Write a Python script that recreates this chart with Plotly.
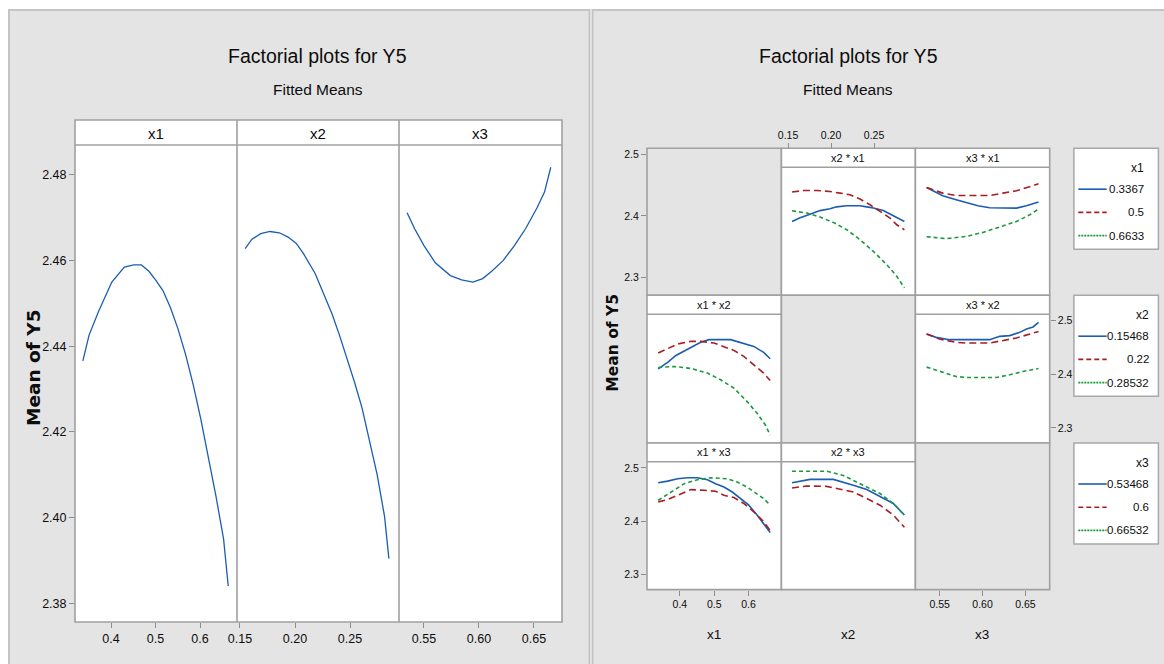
import plotly.graph_objects as go

# ---------------- DATA ----------------
# Main effects (left chart)
me_x1 = [0.3367, 0.3506, 0.3719, 0.4017, 0.4298, 0.4511, 0.4681, 0.4851, 0.5000, 0.5166, 0.5336, 0.5506, 0.5677, 0.5847, 0.6017, 0.6187, 0.6357, 0.6528, 0.6633]
me_y1 = [2.4366, 2.4426, 2.4481, 2.4550, 2.4585, 2.4590, 2.4590, 2.4575, 2.4555, 2.4530, 2.4490, 2.4440, 2.4380, 2.4310, 2.4230, 2.4140, 2.4050, 2.3950, 2.3840]
me_x2 = [0.15468, 0.1609, 0.1688, 0.1773, 0.1858, 0.1937, 0.2012, 0.2080, 0.2183, 0.2268, 0.2336, 0.2404, 0.2473, 0.2541, 0.2609, 0.2677, 0.2746, 0.2814, 0.28532]
me_y2 = [2.4628, 2.4650, 2.4663, 2.4668, 2.4665, 2.4655, 2.4640, 2.4615, 2.4570, 2.4520, 2.4476, 2.4426, 2.4371, 2.4316, 2.4256, 2.4181, 2.4101, 2.4002, 2.3904]
me_x3 = [0.53468, 0.5414, 0.5500, 0.5603, 0.5740, 0.5842, 0.5945, 0.6034, 0.6116, 0.6219, 0.6322, 0.6425, 0.6527, 0.6596, 0.66532]
me_y3 = [2.4712, 2.4675, 2.4635, 2.4595, 2.4565, 2.4555, 2.4550, 2.4558, 2.4575, 2.4600, 2.4635, 2.4675, 2.4723, 2.4760, 2.4818]

# Factor levels (legend labels)
x1_levels = ["0.3367", "0.5", "0.6633"]
x2_levels = ["0.15468", "0.22", "0.28532"]
x3_levels = ["0.53468", "0.6", "0.66532"]

# Interaction x2 * x1  (x axis = x2, lines = x1 levels)
x2x1_x_lo = [0.15468, 0.1640, 0.1756, 0.1872, 0.1988, 0.2066, 0.2183, 0.2337, 0.2415, 0.2492, 0.2608, 0.2724, 0.28532]
x2x1_y_lo = [2.4097, 2.4165, 2.4230, 2.4300, 2.4335, 2.4370, 2.4390, 2.4390, 2.4370, 2.4350, 2.4300, 2.4210, 2.4097]
x2x1_x_mid = [0.15468, 0.1678, 0.1833, 0.1988, 0.2105, 0.2221, 0.2337, 0.2453, 0.2570, 0.2686, 0.2764, 0.28532]
x2x1_y_mid = [2.4646, 2.4676, 2.4676, 2.4657, 2.4627, 2.4595, 2.4515, 2.4409, 2.4284, 2.4160, 2.4035, 2.3942]
x2x1_x_hi = [0.15468, 0.1717, 0.1872, 0.2027, 0.2183, 0.2337, 0.2492, 0.2648, 0.2764, 0.28532]
x2x1_y_hi = [2.4297, 2.4254, 2.4179, 2.4079, 2.3942, 2.3756, 2.3537, 2.3289, 2.3071, 2.2854]

# Interaction x3 * x1  (x axis = x3, lines = x1 levels)
x3x1_x_lo = [0.53468, 0.5418, 0.5535, 0.5692, 0.5809, 0.5946, 0.6083, 0.6200, 0.6396, 0.6513, 0.66532]
x3x1_y_lo = [2.4731, 2.4676, 2.4576, 2.4502, 2.4452, 2.4390, 2.4353, 2.4347, 2.4347, 2.4390, 2.4459]
x3x1_x_mid = [0.53468, 0.5535, 0.5692, 0.5887, 0.6083, 0.6239, 0.6396, 0.66532]
x3x1_y_mid = [2.4731, 2.4627, 2.4582, 2.4576, 2.4582, 2.4627, 2.4670, 2.4800]
x3x1_x_hi = [0.53468, 0.5575, 0.5809, 0.6004, 0.6200, 0.6396, 0.6552, 0.66532]
x3x1_y_hi = [2.3812, 2.3774, 2.3817, 2.3892, 2.3993, 2.4097, 2.4222, 2.4328]

# Interaction x1 * x2  (x axis = x1, lines = x2 levels)
x1x2_x_lo = [0.3367, 0.3643, 0.3884, 0.4174, 0.4415, 0.4609, 0.4850, 0.5478, 0.5768, 0.6155, 0.6443, 0.6633]
x1x2_y_lo = [2.4097, 2.4215, 2.4345, 2.4451, 2.4526, 2.4588, 2.4638, 2.4638, 2.4588, 2.4513, 2.4401, 2.4284]
x1x2_x_mid = [0.3367, 0.3643, 0.3933, 0.4319, 0.4609, 0.4995, 0.5284, 0.5575, 0.5864, 0.6155, 0.6443, 0.6633]
x1x2_y_mid = [2.4390, 2.4465, 2.4558, 2.4607, 2.4607, 2.4576, 2.4513, 2.4438, 2.4327, 2.4172, 2.4017, 2.3879]
x1x2_x_hi = [0.3367, 0.3835, 0.4319, 0.4802, 0.5188, 0.5575, 0.5962, 0.6252, 0.6493, 0.6633]
x1x2_y_hi = [2.4121, 2.4140, 2.4103, 2.4017, 2.3892, 2.3737, 2.3487, 2.3270, 2.3052, 2.2866]

# Interaction x3 * x2  (x axis = x3, lines = x2 levels)
x3x2_x_lo = [0.53468, 0.5458, 0.5614, 0.5809, 0.6083, 0.6200, 0.6317, 0.6435, 0.6513, 0.6590, 0.66532]
x3x2_y_lo = [2.4744, 2.4681, 2.4638, 2.4638, 2.4638, 2.4700, 2.4713, 2.4774, 2.4837, 2.4875, 2.4961]
x3x2_x_mid = [0.53468, 0.5497, 0.5692, 0.5809, 0.6083, 0.6239, 0.6396, 0.66532]
x3x2_y_mid = [2.4744, 2.4650, 2.4588, 2.4576, 2.4576, 2.4625, 2.4670, 2.4790]
x3x2_x_hi = [0.53468, 0.5497, 0.5692, 0.5809, 0.6161, 0.6317, 0.6473, 0.66532]
x3x2_y_hi = [2.4128, 2.4047, 2.3953, 2.3935, 2.3935, 2.3985, 2.4047, 2.4103]

# Interaction x1 * x3  (x axis = x1, lines = x3 levels)
x1x3_x_lo = [0.3367, 0.3643, 0.3933, 0.4222, 0.4512, 0.4802, 0.5043, 0.5284, 0.5527, 0.5768, 0.6009, 0.6250, 0.6443, 0.6633]
x1x3_y_lo = [2.4722, 2.4751, 2.4796, 2.4814, 2.4814, 2.4777, 2.4703, 2.4640, 2.4547, 2.4425, 2.4300, 2.4115, 2.3961, 2.3787]
x1x3_x_mid = [0.3367, 0.3643, 0.3933, 0.4319, 0.4705, 0.5043, 0.5284, 0.5575, 0.5864, 0.6155, 0.6443, 0.6633]
x1x3_y_mid = [2.4362, 2.4406, 2.4486, 2.4592, 2.4579, 2.4560, 2.4486, 2.4443, 2.4332, 2.4176, 2.3991, 2.3824]
x1x3_x_hi = [0.3367, 0.3739, 0.4126, 0.4512, 0.4899, 0.5383, 0.5672, 0.5962, 0.6250, 0.6443, 0.6633]
x1x3_y_hi = [2.4393, 2.4547, 2.4703, 2.4777, 2.4814, 2.4796, 2.4733, 2.4640, 2.4518, 2.4425, 2.4300]

# Interaction x2 * x3  (x axis = x2, lines = x3 levels)
x2x3_x_lo = [0.15468, 0.1640, 0.1756, 0.2027, 0.2143, 0.2259, 0.2415, 0.2570, 0.2724, 0.28532]
x2x3_y_lo = [2.4722, 2.4751, 2.4783, 2.4783, 2.4733, 2.4672, 2.4592, 2.4468, 2.4332, 2.4115]
x2x3_x_mid = [0.15468, 0.1717, 0.1950, 0.2143, 0.2259, 0.2415, 0.2570, 0.2724, 0.28532]
x2x3_y_mid = [2.4622, 2.4659, 2.4653, 2.4592, 2.4547, 2.4425, 2.4300, 2.4115, 2.3887]
x2x3_x_hi = [0.15468, 0.1950, 0.2143, 0.2259, 0.2415, 0.2570, 0.2724, 0.28532]
x2x3_y_hi = [2.4937, 2.4937, 2.4857, 2.4764, 2.4640, 2.4518, 2.4332, 2.4115]

# Tick labels
main_y_ticks = [2.38, 2.40, 2.42, 2.44, 2.46, 2.48]
int_y_ticks = [2.3, 2.4, 2.5]
x1_ticks = [0.4, 0.5, 0.6]
x2_ticks = [0.15, 0.20, 0.25]
x3_ticks = [0.55, 0.60, 0.65]

# ---------------- STYLE / LAYOUT HELPERS ----------------
W, H = 1164, 664
def fx(p): return p / W
def fy(p): return 1 - p / H

FONT = "Liberation Sans, Arial, sans-serif"
BOLDFONT = "DejaVu Sans, Verdana, sans-serif"
TXT = "#0d0d0d"
BG = "#e4e4e4"
FRAME = "#a0a0a0"
TICK = "#8c8c8c"
BLUE, RED, GREEN = "#1b5db3", "#a81e22", "#1a9a3c"
STY = [dict(color=BLUE, width=1.6, dash="solid"),
       dict(color=RED, width=1.6, dash="7px,4px"),
       dict(color=GREEN, width=1.6, dash="4px,3px")]
LEG_STY = [dict(color=BLUE, width=1.6, dash="solid"),
           dict(color=RED, width=1.6, dash="5px,3px"),
           dict(color=GREEN, width=1.6, dash="2px,1px")]

fig = go.Figure()

def line_trace(x, y, xa, ya, st):
    fig.add_trace(go.Scatter(x=x, y=y, mode="lines", line=st, xaxis=xa, yaxis=ya,
                             showlegend=False, hoverinfo="skip"))

# main effects
line_trace(me_x1, me_y1, "x", "y", dict(color=BLUE, width=1.3))
line_trace(me_x2, me_y2, "x2", "y", dict(color=BLUE, width=1.3))
line_trace(me_x3, me_y3, "x3", "y", dict(color=BLUE, width=1.3))

panels = [
    ("x4", "y4", [(x2x1_x_lo, x2x1_y_lo), (x2x1_x_mid, x2x1_y_mid), (x2x1_x_hi, x2x1_y_hi)]),
    ("x5", "y5", [(x3x1_x_lo, x3x1_y_lo), (x3x1_x_mid, x3x1_y_mid), (x3x1_x_hi, x3x1_y_hi)]),
    ("x6", "y6", [(x1x2_x_lo, x1x2_y_lo), (x1x2_x_mid, x1x2_y_mid), (x1x2_x_hi, x1x2_y_hi)]),
    ("x7", "y7", [(x3x2_x_lo, x3x2_y_lo), (x3x2_x_mid, x3x2_y_mid), (x3x2_x_hi, x3x2_y_hi)]),
    ("x8", "y8", [(x1x3_x_lo, x1x3_y_lo), (x1x3_x_mid, x1x3_y_mid), (x1x3_x_hi, x1x3_y_hi)]),
    ("x9", "y9", [(x2x3_x_lo, x2x3_y_lo), (x2x3_x_mid, x2x3_y_mid), (x2x3_x_hi, x2x3_y_hi)]),
]
for xa, ya, lines in panels:
    for (lx, ly), st in zip(lines, STY):
        line_trace(lx, ly, xa, ya, st)
# dummy (empty) trace for the row-1 tick axis
fig.add_trace(go.Scatter(x=[], y=[], xaxis="x10", yaxis="y10", showlegend=False))

# ---------------- AXES ----------------
def ax(domain, rng, tickvals=None, fmt=None, size=12.5, **kw):
    d = dict(domain=domain, range=rng, showgrid=False, zeroline=False, showline=False,
             fixedrange=True, automargin=False)
    if tickvals is None:
        d.update(showticklabels=False, ticks="")
    else:
        d.update(tickvals=tickvals, ticktext=[fmt.format(v) for v in tickvals],
                 ticks="outside", ticklen=5, tickwidth=1, tickcolor=TICK,
                 tickfont=dict(family=FONT, size=size, color=TXT))
    d.update(kw)
    return d

X1R_M, X2R_M, X3R_M = [0.319, 0.683], [0.1473, 0.2945], [0.5273, 0.6755]
YR_M = [2.3756, 2.487]
X1R, X2R, X3R = [0.304, 0.696], [0.1423, 0.2981], [0.5216, 0.6784]
YR = [2.2718, 2.5115]

C1, C2, C3 = [647, 781.4], [781.4, 915.4], [915.4, 1049.7]
R1, R2, R3 = [167, 295.2], [314, 443], [461.7, 589.6]
def dx(c): return [fx(c[0]), fx(c[1])]
def dy(r): return [fy(r[1]), fy(r[0])]

lay = {}
lay["xaxis"] = ax([fx(75), fx(237)], X1R_M, x1_ticks, "{:.1f}", anchor="y")
lay["xaxis2"] = ax([fx(237), fx(399)], X2R_M, x2_ticks, "{:.2f}", anchor="y")
lay["xaxis3"] = ax([fx(399), fx(562)], X3R_M, x3_ticks, "{:.2f}", anchor="y")
lay["yaxis"] = ax([fy(622), fy(145)], YR_M, main_y_ticks, "{:.2f}", anchor="x")

RS = 10.5
lay["xaxis4"] = ax(dx(C2), X2R, x2_ticks, "{:.2f}", RS, anchor="free", position=fy(148.2), side="top")
lay["yaxis4"] = ax(dy(R1), YR, anchor="x4")
lay["xaxis5"] = ax(dx(C3), X3R, anchor="y5")
lay["yaxis5"] = ax(dy(R1), YR, anchor="x5")
lay["xaxis6"] = ax(dx(C1), X1R, anchor="y6")
lay["yaxis6"] = ax(dy(R2), YR, anchor="x6")
lay["xaxis7"] = ax(dx(C3), X3R, x3_ticks, "{:.2f}", RS, anchor="free", position=fy(589.6))
lay["yaxis7"] = ax(dy(R2), YR, int_y_ticks, "{:.1f}", RS, anchor="x7", side="right")
lay["xaxis8"] = ax(dx(C1), X1R, x1_ticks, "{:.1f}", RS, anchor="y8")
lay["yaxis8"] = ax(dy(R3), YR, int_y_ticks, "{:.1f}", RS, anchor="x8")
lay["xaxis9"] = ax(dx(C2), X2R, anchor="y9")
lay["yaxis9"] = ax(dy(R3), YR, anchor="x9")
lay["xaxis10"] = ax(dx(C1), X1R, anchor="y10")
lay["yaxis10"] = ax([fy(295.2), fy(148.2)], [2.271, 2.5104], int_y_ticks, "{:.1f}", RS, anchor="x10")

# ---------------- SHAPES ----------------
shapes = []
def rect(x0, y0, x1, y1, fill="rgba(0,0,0,0)", line=FRAME, width=1.6, layer="below"):
    shapes.append(dict(type="rect", xref="paper", yref="paper", x0=fx(x0), x1=fx(x1),
                       y0=fy(y1), y1=fy(y0), fillcolor=fill,
                       line=dict(color=line, width=width), layer=layer))
def hline(x0, x1, y, color=FRAME, width=1.6):
    shapes.append(dict(type="line", xref="paper", yref="paper", x0=fx(x0), x1=fx(x1),
                       y0=fy(y), y1=fy(y), line=dict(color=color, width=width), layer="below"))
def vline(x, y0, y1, color=FRAME, width=1.6):
    shapes.append(dict(type="line", xref="paper", yref="paper", x0=fx(x), x1=fx(x),
                       y0=fy(y0), y1=fy(y1), line=dict(color=color, width=width), layer="below"))

# chart backgrounds
rect(9, 10, 589.5, 672, fill=BG, line="#c4c4c4", width=2)
rect(592.5, 10, 1172, 672, fill=BG, line="#c4c4c4", width=2)

# left chart frame
rect(75, 120, 562, 622, fill="white")
hline(75, 562, 145)
vline(237, 120, 622)
vline(399, 120, 622)

# right chart grid
rows = [(148.2, 295.2), (295.2, 443), (443, 589.6)]
cols = [C1, C2, C3]
empty = {(0, 0), (1, 1), (2, 2)}
for ri, (ry0, ry1) in enumerate(rows):
    for ci, c in enumerate(cols):
        if (ri, ci) in empty:
            rect(c[0], ry0, c[1], ry1, fill=BG)
        else:
            rect(c[0], ry0, c[1], ry1, fill="white")
            hline(c[0], c[1], ry0 + (19 if ri < 2 else 18.7))

# legends
LEG_TOPS = [148.2, 295.2, 443]
LEG_RIGHT = [1145.7, 1150.7, 1150.7]
for top in LEG_TOPS:
    rect(1073.9, top, 1158.4, top + 101, fill="white", line="#a8a8a8", width=1.5)
    for k, st in enumerate(LEG_STY):
        yy = top + 41 + k * 23.2
        shapes.append(dict(type="line", xref="paper", yref="paper", x0=fx(1078.3), x1=fx(1106.7),
                           y0=fy(yy), y1=fy(yy), line=st, layer="above"))

# ---------------- ANNOTATIONS ----------------
ann = []
def text(t, x, y, size, xanchor="center", family=FONT, angle=0, weight="normal"):
    ann.append(dict(text=t, x=fx(x), y=fy(y), xref="paper", yref="paper", showarrow=False,
                    xanchor=xanchor, yanchor="middle", textangle=angle,
                    font=dict(family=family, size=size, color=TXT, weight=weight)))

for cx in (318, 848):
    text("Factorial plots for Y5", cx, 56, 19.5)
    text("Fitted Means", cx, 89, 15.5)

text("x1", 156, 133, 15)
text("x2", 318, 133, 15)
text("x3", 480, 133, 15)
text("Mean of Y5", 33, 368, 18.5, family=BOLDFONT, angle=-90, weight="bold")

strip_y = [157.7, 304.6, 452.3]
ccent = [(c[0] + c[1]) / 2 for c in cols]
text("x2 * x1", ccent[1], strip_y[0], 11)
text("x3 * x1", ccent[2], strip_y[0], 11)
text("x1 * x2", ccent[0], strip_y[1], 11)
text("x3 * x2", ccent[2], strip_y[1], 11)
text("x1 * x3", ccent[0], strip_y[2], 11)
text("x2 * x3", ccent[1], strip_y[2], 11)

text("x1", 713.7, 634, 13.5)
text("x2", 848, 634, 13.5)
text("x3", 982, 634, 13.5)
text("Mean of Y5", 612.7, 343, 15.5, family=BOLDFONT, angle=-90, weight="bold")

for top, rx, name, levels in zip(LEG_TOPS, LEG_RIGHT, ["x1", "x2", "x3"],
                                 [x1_levels, x2_levels, x3_levels]):
    text(name, rx, top + 19.5, 12, xanchor="right")
    for k, lab in enumerate(levels):
        text(lab, rx, top + 41 + k * 23.2, 11.5, xanchor="right")

fig.update_layout(template="none", width=W, height=H, autosize=False,
                  margin=dict(l=0, r=0, t=0, b=0, pad=0),
                  paper_bgcolor="white", plot_bgcolor="rgba(0,0,0,0)",
                  showlegend=False, shapes=shapes, annotations=ann, **lay)

fig.write_html("out.html", config={"displayModeBar": False},
               post_script="document.body.style.margin='0';document.body.style.padding='0';"
                           "document.body.style.overflow='hidden';")
